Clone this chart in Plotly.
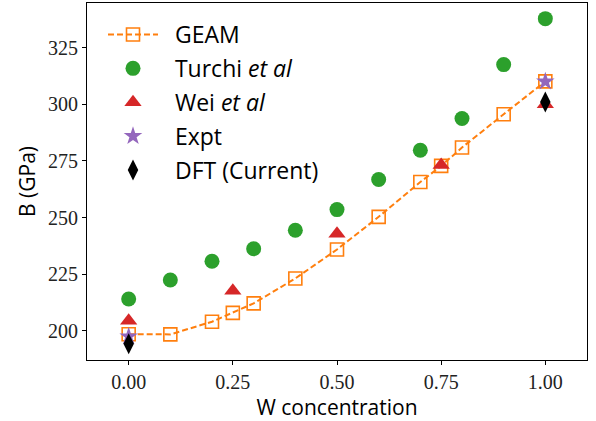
import plotly.graph_objects as go

# ---- data ----
geam_x = [0.0, 0.1, 0.2, 0.25, 0.3, 0.4, 0.5, 0.6, 0.7, 0.75, 0.8, 0.9, 1.0]
geam_y = [198.5, 198.4, 204.0, 207.9, 212.1, 223.1, 235.9, 250.3, 265.7, 272.8, 280.9, 295.6, 310.1]

turchi_x = [0.0, 0.1, 0.2, 0.3, 0.4, 0.5, 0.6, 0.7, 0.8, 0.9, 1.0]
turchi_y = [214.0, 222.4, 230.7, 236.2, 244.4, 253.5, 266.8, 279.7, 293.7, 317.5, 337.8]

wei_x = [0.0, 0.25, 0.5, 0.75, 1.0]
wei_y = [204.4, 217.7, 242.8, 273.2, 300.0]

expt_x = [0.0, 1.0]
expt_y = [197.5, 310.0]

dft_x = [0.0, 1.0]
dft_y = [194.3, 301.0]

x_ticks = [0.0, 0.25, 0.5, 0.75, 1.0]
x_ticklabels = ["0.00", "0.25", "0.50", "0.75", "1.00"]
y_ticks = [200, 225, 250, 275, 300, 325]

ORANGE = "#ff7f0e"
GREEN = "#2ca02c"
RED = "#d62728"
PURPLE = "#9467bd"

SANS = "Open Sans"
SERIF = "Liberation Serif"
PAD = "\u00a0\u00a0"

fig = go.Figure()
fig.add_trace(go.Scatter(
    x=geam_x, y=geam_y, mode="lines+markers", name=PAD + "GEAM", legendgroup="a",
    line=dict(color=ORANGE, width=2, dash="6px,3px"),
    marker=dict(symbol="square-open", size=13, color=ORANGE, line=dict(width=1.6, color=ORANGE)),
))
fig.add_trace(go.Scatter(
    x=turchi_x, y=turchi_y, mode="markers", name=PAD + "Turchi <i>et al</i>", legendgroup="b",
    marker=dict(symbol="circle", size=15, color=GREEN),
))
fig.add_trace(go.Scatter(
    x=wei_x, y=wei_y, mode="markers", name=PAD + "Wei <i>et al</i>", legendgroup="c",
    marker=dict(symbol="triangle-up", size=15, color=RED),
))
fig.add_trace(go.Scatter(
    x=expt_x, y=expt_y, mode="markers", name=PAD + "Expt", legendgroup="d",
    marker=dict(symbol="star", size=14, color=PURPLE),
))
fig.add_trace(go.Scatter(
    x=dft_x, y=dft_y, mode="markers", name=PAD + "DFT (Current)", legendgroup="e",
    marker=dict(symbol="diamond-tall", size=15, color="black"),
))

fig.update_layout(
    width=596, height=421,
    margin=dict(l=87, r=9, t=3, b=61),
    paper_bgcolor="white", plot_bgcolor="white",
    showlegend=True,
    legend=dict(
        x=0.032, y=0.972, xanchor="left", yanchor="top",
        font=dict(family=SANS, size=23, color="black"),
        bgcolor="rgba(255,255,255,0)", borderwidth=0,
        tracegroupgap=1, itemwidth=50,
    ),
)
fig.update_xaxes(
    range=[-0.1, 1.1], tickvals=x_ticks, ticktext=x_ticklabels,
    ticks="outside", ticklen=4, tickwidth=1, tickcolor="black",
    showline=True, linecolor="black", linewidth=1, mirror=True,
    showgrid=False, zeroline=False,
    tickfont=dict(family=SERIF, size=20, color="#222"),
    title=dict(text="W concentration", font=dict(family=SANS, size=21, color="black"), standoff=4),
)
fig.update_yaxes(
    range=[187.1, 344.7], tickvals=y_ticks,
    ticks="outside", ticklen=4, tickwidth=1, tickcolor="black",
    showline=True, linecolor="black", linewidth=1, mirror=True,
    showgrid=False, zeroline=False,
    tickfont=dict(family=SERIF, size=20, color="#222"),
    title=dict(text="B (GPa)", font=dict(family=SANS, size=21, color="black"), standoff=6),
)

fig.write_html("out.html")
